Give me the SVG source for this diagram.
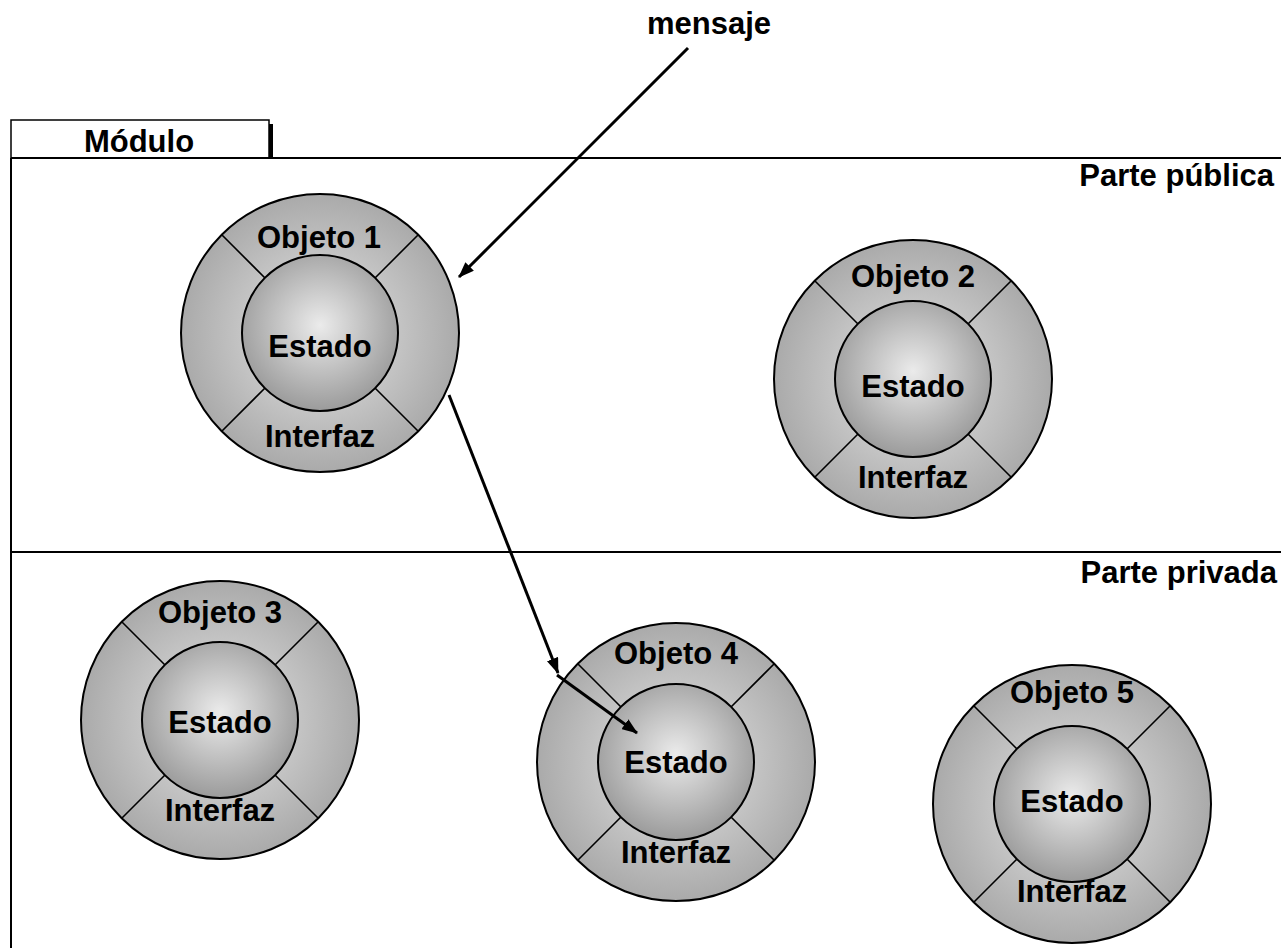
<svg xmlns="http://www.w3.org/2000/svg" width="1281" height="948" viewBox="0 0 1281 948">
  <defs>
    <radialGradient id="ringFill" cx="0.5" cy="0.5" r="0.5">
      <stop offset="0.5" stop-color="#c8c8c8"/>
      <stop offset="1" stop-color="#aaaaaa"/>
    </radialGradient>
    <radialGradient id="coreFill" cx="0.5" cy="0.45" r="0.55">
      <stop offset="0" stop-color="#ebebeb"/>
      <stop offset="1" stop-color="#9b9b9b"/>
    </radialGradient>
    <marker id="head" viewBox="0 0 16 12" refX="15" refY="6" markerWidth="16" markerHeight="12" markerUnits="userSpaceOnUse" orient="auto">
      <path d="M0,0 L16,6 L0,12 Z" fill="#000"/>
    </marker>
    <!-- one object: outer ring, four dividers, inner state circle -->
    <g id="obj">
      <circle r="139" fill="url(#ringFill)" stroke="#000" stroke-width="2"/>
      <path d="M-55,-55 L-98,-98 M55,-55 L98,-98 M-55,55 L-98,98 M55,55 L98,98" stroke="#000" stroke-width="1.6" fill="none"/>
      <circle r="78" fill="url(#coreFill)" stroke="#000" stroke-width="2"/>
    </g>
  </defs>
  <style>
    text { font-family: "Liberation Sans", Arial, sans-serif; font-weight: bold; font-size: 31px; fill: #000; }
    .c { text-anchor: middle; }
    .r { text-anchor: end; }
    .frame { stroke: #000; stroke-width: 2; fill: none; }
    .conn { stroke: #000; stroke-width: 3; fill: none; marker-end: url(#head); }
  </style>

  <rect width="1281" height="948" fill="#fff"/>

  <!-- module frame -->
  <g id="module">
    <rect x="11" y="120" width="258" height="38" fill="#fff" stroke="#000" stroke-width="1.5"/>
    <line x1="271" y1="124" x2="271" y2="158" stroke="#000" stroke-width="4"/>
    <text class="c" x="139" y="152">Módulo</text>
    <path class="frame" d="M11,158 L1281,158 M11,158 L11,948 M11,552 L1281,552"/>
    <text class="r" x="1274" y="186">Parte pública</text>
    <text class="r" x="1277" y="583">Parte privada</text>
  </g>

  <g id="objeto1">
    <use href="#obj" x="320" y="333"/>
    <text class="c" x="319" y="248">Objeto 1</text>
    <text class="c" x="320" y="357">Estado</text>
    <text class="c" x="320" y="447">Interfaz</text>
  </g>

  <g id="objeto2">
    <use href="#obj" x="913" y="379"/>
    <text class="c" x="913" y="287">Objeto 2</text>
    <text class="c" x="913" y="397">Estado</text>
    <text class="c" x="913" y="488">Interfaz</text>
  </g>

  <g id="objeto3">
    <use href="#obj" x="220" y="720"/>
    <text class="c" x="220" y="623">Objeto 3</text>
    <text class="c" x="220" y="733">Estado</text>
    <text class="c" x="220" y="821">Interfaz</text>
  </g>

  <g id="objeto4">
    <use href="#obj" x="676" y="762"/>
    <text class="c" x="676" y="664">Objeto 4</text>
    <text class="c" x="676" y="773">Estado</text>
    <text class="c" x="676" y="863">Interfaz</text>
  </g>

  <g id="objeto5">
    <use href="#obj" x="1072" y="804"/>
    <text class="c" x="1072" y="703">Objeto 5</text>
    <text class="c" x="1072" y="812">Estado</text>
    <text class="c" x="1072" y="902">Interfaz</text>
  </g>

  <g id="mensaje-label">
    <text class="c" x="709" y="34">mensaje</text>
  </g>

  <!-- connectors -->
  <g id="connectors">
    <line class="conn" x1="688" y1="48" x2="459" y2="277"/>
    <line class="conn" x1="449" y1="395" x2="558" y2="673"/>
    <line class="conn" x1="557" y1="675" x2="637" y2="733"/>
  </g>
</svg>
